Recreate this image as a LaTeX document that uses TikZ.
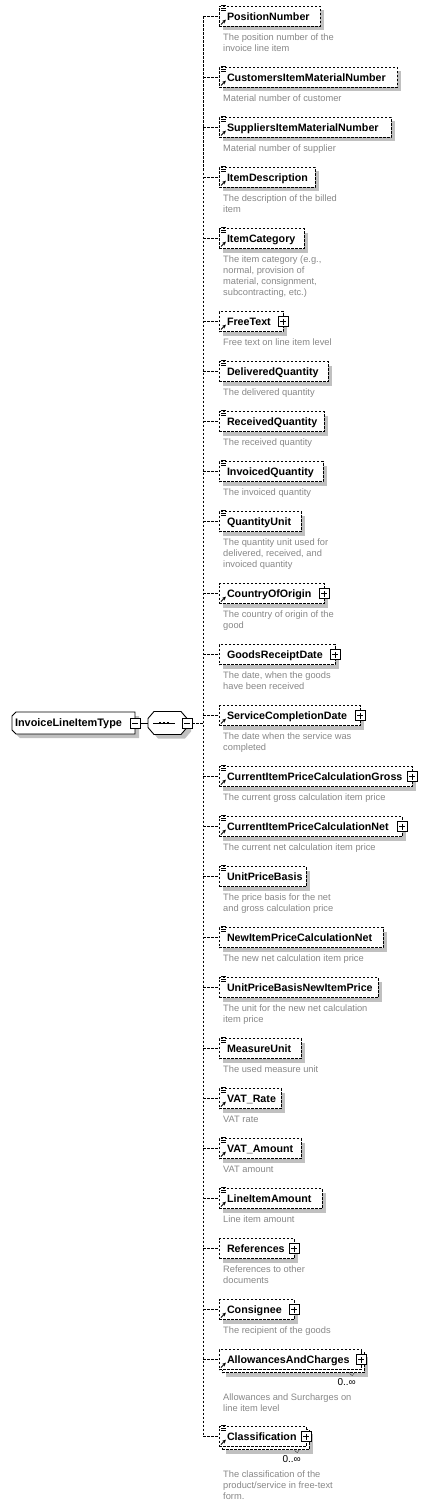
\documentclass[tikz,border=0pt]{standalone}
\usepackage{fontspec}
\setmainfont{Liberation Sans}
\usetikzlibrary{arrows.meta,shadows,calc,backgrounds}
\definecolor{shgray}{RGB}{192,192,192}
\definecolor{descgray}{RGB}{135,135,135}
\tikzset{
  dsh/.style={dash pattern=on 2.5bp off 1.5bp},
  conn/.style={dsh, line width=0.9bp},
  elbase/.style={draw, dsh, line width=0.9bp, fill=white, anchor=west, outer sep=0pt,
     minimum height=20bp, inner xsep=8bp, inner ysep=0pt, align=left,
     font=\bfseries\fontsize{10.7bp}{12bp}\selectfont},
  elbox/.style={elbase, drop shadow={shadow xshift=4bp, shadow yshift=-4bp, fill=shgray, opacity=1}},
  mbox/.style={elbase,
     drop shadow={shadow xshift=7bp, shadow yshift=-7bp, fill=shgray, opacity=1},
     general shadow={shadow xshift=3bp, shadow yshift=-3bp, draw, fill=white, dsh, line width=0.9bp}},
  pmbox/.style={draw, solid, line width=0.9bp, fill=white, minimum size=10bp, inner sep=0pt, outer sep=0pt},
  desc/.style={anchor=north west, inner sep=0pt, align=left, text=descgray, font=\fontsize{9.3bp}{11bp}\selectfont},
  occ/.style={anchor=east, inner sep=0pt, font=\fontsize{10bp}{12bp}\selectfont},
  icon/.style={line width=0.8bp, solid},
}
% element box: [style] id y right-edge label
\newcommand\El[5][elbox]{%
  \pgfmathsetmacro\tw{#4-235}%
  \node[#1, text width=\tw bp] (#2) at (219,#3) {\rule[-2.4bp]{0pt}{12.6bp}#5};
  \coordinate (v#2) at (203,#3);
  \draw[conn] (v#2) -- (#2.west);
}
% description: [offset] id y text
\newcommand\Ds[4][21]{\node[desc] (#2d) at (223,#3+#1-4.7) {\strut #4};}
\newcommand\Ln[1]{\foreach \d in {-1,1.5,4} \draw[icon] ($(#1.north west)+(2,\d)$) -- ++(5,0);}
\newcommand\Ar[1]{\draw[line width=1bp,-{Stealth[length=3.6bp,width=3.6bp]}] ($(#1.south west)+(2,-2)$) -- ++(4.8,-4.8);}
\newcommand\Pl[1]{\node[pmbox] (#1p) at (#1.east) {};
  \draw[icon] ($(#1p.center)+(-3,0)$) -- ++(6,0) ($(#1p.center)+(0,-3)$) -- ++(0,6);}
\newcommand\Mi[2]{\node[pmbox] (#2) at (#1.east) {};
  \draw[icon] ($(#2.center)+(-3,0)$) -- ++(6,0);}
\newcommand\Oc[2]{\node[occ] (#1o) at ($(#1.east)+(-5,#2)$) {0..∞};
  \draw[line width=0.6bp, dash pattern=on 1bp off 1bp] ($(#1.south east)+(-12,3)$) -- ++(3,3) -- ++(3,-3);}

\begin{document}
\begin{tikzpicture}[x=1bp,y=-1bp]
\useasboundingbox (0,0) rectangle (427,1506);

% ---- type box and sequence compositor
\node[anchor=west, minimum width=123bp, minimum height=22bp, inner xsep=3bp, inner ysep=0pt,
      outer sep=0pt, text width=117bp, align=left, font=\bfseries\fontsize{10.9bp}{12bp}\selectfont]
      (type) at (12,723) {\rule[-2.4bp]{0pt}{12.6bp}InvoiceLineItemType};
\node[minimum width=39bp, minimum height=23bp, inner sep=0pt, outer sep=0pt] (seq) at (167.5,723) {};
\begin{scope}[on background layer]
  \begin{scope}[transform canvas={shift={(4bp,-4bp)}}]
    \fill[shgray] ($(type.north west)+(4,0)$) -- (type.north east) -- (type.south east)
      -- ($(type.south west)+(4,0)$) -- ($(type.south west)+(0,-4)$) -- ($(type.north west)+(0,4)$) -- cycle;
    \fill[shgray] ($(seq.north west)+(6,0)$) -- ($(seq.north east)+(-6,0)$) -- ($(seq.north east)+(0,7)$)
      -- ($(seq.south east)+(0,-7)$) -- ($(seq.south east)+(-6,0)$) -- ($(seq.south west)+(6,0)$)
      -- ($(seq.south west)+(0,-7)$) -- ($(seq.north west)+(0,7)$) -- cycle;
  \end{scope}
  \draw[fill=white, line width=0.9bp] ($(type.north west)+(4,0)$) -- (type.north east) -- (type.south east)
      -- ($(type.south west)+(4,0)$) -- ($(type.south west)+(0,-4)$) -- ($(type.north west)+(0,4)$) -- cycle;
  \draw[fill=white, line width=0.9bp] ($(seq.north west)+(6,0)$) -- ($(seq.north east)+(-6,0)$) -- ($(seq.north east)+(0,7)$)
      -- ($(seq.south east)+(0,-7)$) -- ($(seq.south east)+(-6,0)$) -- ($(seq.south west)+(6,0)$)
      -- ($(seq.south west)+(0,-7)$) -- ($(seq.north west)+(0,7)$) -- cycle;
\end{scope}
\draw[line width=0.9bp] ($(seq.center)+(-14.5,0)$) -- ($(seq.center)+(7.5,0)$);
\foreach \dx in {-7.5,-3.5,0.5} \fill ($(seq.center)+(\dx-1.4,-1.4)$) rectangle ++(2.8,2.8);
\Mi{type}{typem}
\Mi{seq}{seqm}
\draw[line width=0.9bp] (typem.east) -- (seq.west);
\coordinate (vseq) at (203,723);
\draw[conn] (seqm.east) -- (vseq);

% ---- elements
\El{PositionNumber}{16.5}{320}{PositionNumber}
\El{CustomersItemMaterialNumber}{77.5}{397}{CustomersItemMaterialNumber}
\El{SuppliersItemMaterialNumber}{127.5}{391}{SuppliersItemMaterialNumber}
\El{ItemDescription}{177.5}{315}{ItemDescription}
\El{ItemCategory}{238.5}{304}{ItemCategory}
\El{FreeText}{321.5}{283}{FreeText}
\El{DeliveredQuantity}{371.5}{328}{DeliveredQuantity}
\El{ReceivedQuantity}{421.5}{324}{ReceivedQuantity}
\El{InvoicedQuantity}{471.5}{323}{InvoicedQuantity}
\El{QuantityUnit}{521.5}{301}{QuantityUnit}
\El{CountryOfOrigin}{593.5}{324}{CountryOfOrigin}
\El{GoodsReceiptDate}{654.5}{335}{GoodsReceiptDate}
\El{ServiceCompletionDate}{715.5}{360}{ServiceCompletionDate}
\El{CurrentItemPriceCalculationGross}{776.5}{412}{CurrentItemPriceCalculationGross}
\El{CurrentItemPriceCalculationNet}{826.5}{402}{CurrentItemPriceCalculationNet}
\El{UnitPriceBasis}{876.5}{306}{UnitPriceBasis}
\El{NewItemPriceCalculationNet}{937.5}{383}{NewItemPriceCalculationNet}
\El{UnitPriceBasisNewItemPrice}{987.5}{378}{UnitPriceBasisNewItemPrice}
\El{MeasureUnit}{1048.5}{301}{MeasureUnit}
\El{VATRate}{1098.5}{281}{VAT\_Rate}
\El{VATAmount}{1148.5}{301}{VAT\_Amount}
\El{LineItemAmount}{1198.5}{322}{LineItemAmount}
\El{References}{1248.5}{294}{References}
\El{Consignee}{1309.5}{294}{Consignee}
\El[mbox]{AllowancesAndCharges}{1359.5}{361}{AllowancesAndCharges}
\El[mbox]{Classification}{1436.5}{306}{Classification}

\draw[conn] (vPositionNumber) -- (vClassification);

% ---- icons
\foreach \n in {PositionNumber,CustomersItemMaterialNumber,SuppliersItemMaterialNumber,ItemDescription,
  ItemCategory,DeliveredQuantity,ReceivedQuantity,InvoicedQuantity,QuantityUnit,
  CurrentItemPriceCalculationGross,CurrentItemPriceCalculationNet,UnitPriceBasis,
  NewItemPriceCalculationNet,UnitPriceBasisNewItemPrice,MeasureUnit,VATRate,VATAmount,
  LineItemAmount,Classification} {\Ln{\n}}
\foreach \n in {PositionNumber,CustomersItemMaterialNumber,SuppliersItemMaterialNumber,ItemDescription,
  ItemCategory,FreeText,CountryOfOrigin,ServiceCompletionDate,CurrentItemPriceCalculationGross,
  CurrentItemPriceCalculationNet,VATRate,VATAmount,LineItemAmount,Consignee,
  AllowancesAndCharges,Classification} {\Ar{\n}}
\Oc{AllowancesAndCharges}{22.5}
\Oc{Classification}{22.5}
\foreach \n in {FreeText,CountryOfOrigin,GoodsReceiptDate,ServiceCompletionDate,
  CurrentItemPriceCalculationGross,CurrentItemPriceCalculationNet,References,Consignee,
  AllowancesAndCharges,Classification} {\Pl{\n}}

% ---- descriptions
\Ds{PositionNumber}{16.5}{The position number of the\\invoice line item}
\Ds{CustomersItemMaterialNumber}{77.5}{Material number of customer}
\Ds{SuppliersItemMaterialNumber}{127.5}{Material number of supplier}
\Ds{ItemDescription}{177.5}{The description of the billed\\item}
\Ds{ItemCategory}{238.5}{The item category (e.g.,\\normal, provision of\\material, consignment,\\subcontracting, etc.)}
\Ds{FreeText}{321.5}{Free text on line item level}
\Ds{DeliveredQuantity}{371.5}{The delivered quantity}
\Ds{ReceivedQuantity}{421.5}{The received quantity}
\Ds{InvoicedQuantity}{471.5}{The invoiced quantity}
\Ds{QuantityUnit}{521.5}{The quantity unit used for\\delivered, received, and\\invoiced quantity}
\Ds{CountryOfOrigin}{593.5}{The country of origin of the\\good}
\Ds{GoodsReceiptDate}{654.5}{The date, when the goods\\have been received}
\Ds{ServiceCompletionDate}{715.5}{The date when the service was\\completed}
\Ds{CurrentItemPriceCalculationGross}{776.5}{The current gross calculation item price}
\Ds{CurrentItemPriceCalculationNet}{826.5}{The current net calculation item price}
\Ds{UnitPriceBasis}{876.5}{The price basis for the net\\and gross calculation price}
\Ds{NewItemPriceCalculationNet}{937.5}{The new net calculation item price}
\Ds{UnitPriceBasisNewItemPrice}{987.5}{The unit for the new net calculation\\item price}
\Ds{MeasureUnit}{1048.5}{The used measure unit}
\Ds{VATRate}{1098.5}{VAT rate}
\Ds{VATAmount}{1148.5}{VAT amount}
\Ds{LineItemAmount}{1198.5}{Line item amount}
\Ds{References}{1248.5}{References to other\\documents}
\Ds{Consignee}{1309.5}{The recipient of the goods}
\Ds[38]{AllowancesAndCharges}{1359.5}{Allowances and Surcharges on\\line item level}
\Ds[38]{Classification}{1436.5}{The classification of the\\product/service in free-text\\form.}
\end{tikzpicture}
\end{document}
